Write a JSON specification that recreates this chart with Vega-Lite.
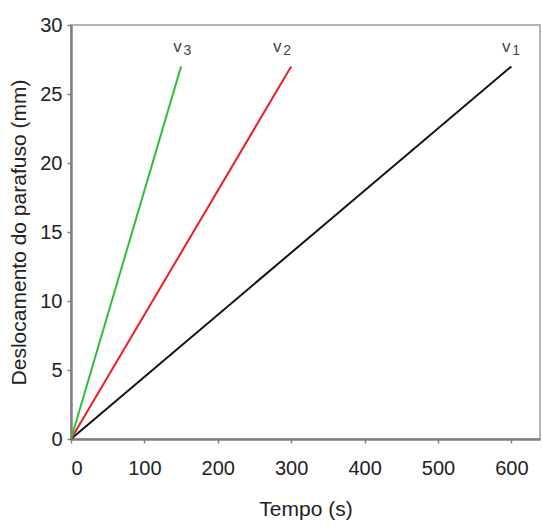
{
  "$schema": "https://vega.github.io/schema/vega-lite/v6.json",
  "width": 469,
  "height": 414,
  "autosize": {"type": "none"},
  "padding": {"left": 71, "top": 25, "right": 2, "bottom": 87},
  "background": "white",
  "config": {
    "view": {"stroke": "#9a9a9a", "strokeWidth": 1.5},
    "font": "Liberation Sans",
    "axis": {
      "grid": false,
      "domainColor": "#808080",
      "domainWidth": 2.5,
      "tickColor": "#808080",
      "tickSize": 4,
      "tickWidth": 1.5,
      "labelFont": "Liberation Sans",
      "labelFontSize": 20,
      "labelColor": "#222",
      "titleFont": "Liberation Sans",
      "titleFontSize": 21,
      "titleFontWeight": "normal",
      "titleColor": "#222"
    }
  },
  "datasets": {
    "lines": [
      {"serie": "v1", "t": 0, "d": 0},
      {"serie": "v1", "t": 600, "d": 27},
      {"serie": "v2", "t": 0, "d": 0},
      {"serie": "v2", "t": 300, "d": 27},
      {"serie": "v3", "t": 0, "d": 0},
      {"serie": "v3", "t": 150, "d": 27}
    ],
    "labels": [
      {"serie": "v1", "t": 593, "d": 28.4, "digit": "1"},
      {"serie": "v2", "t": 281, "d": 28.4, "digit": "2"},
      {"serie": "v3", "t": 145, "d": 28.4, "digit": "3"}
    ]
  },
  "layer": [
    {
      "data": {"name": "lines"},
      "mark": {"type": "line", "strokeWidth": 2},
      "encoding": {
        "x": {
          "field": "t", "type": "quantitative",
          "scale": {"domain": [0, 639], "nice": false, "zero": true},
          "axis": {"values": [0, 100, 200, 300, 400, 500, 600], "title": "Tempo (s)", "labelPadding": 15, "titlePadding": 20}
        },
        "y": {
          "field": "d", "type": "quantitative",
          "scale": {"domain": [0, 30], "nice": false},
          "axis": {"values": [0, 5, 10, 15, 20, 25, 30], "title": "Deslocamento do parafuso (mm)", "labelPadding": 5, "titlePadding": 10}
        },
        "color": {
          "field": "serie", "type": "nominal",
          "scale": {"domain": ["v1", "v2", "v3"], "range": ["#111111", "#ee1c25", "#2fbf3a"]},
          "legend": null
        }
      }
    },
    {
      "data": {"name": "labels"},
      "mark": {"type": "text", "fontSize": 17, "font": "Liberation Sans", "color": "#444", "baseline": "middle", "align": "center"},
      "encoding": {
        "x": {"field": "t", "type": "quantitative"},
        "y": {"field": "d", "type": "quantitative"},
        "text": {"value": "v"}
      }
    },
    {
      "data": {"name": "labels"},
      "mark": {"type": "text", "fontSize": 14, "font": "Liberation Sans", "color": "#444", "baseline": "middle", "align": "center", "dx": 10, "dy": 4},
      "encoding": {
        "x": {"field": "t", "type": "quantitative"},
        "y": {"field": "d", "type": "quantitative"},
        "text": {"field": "digit"}
      }
    }
  ]
}
